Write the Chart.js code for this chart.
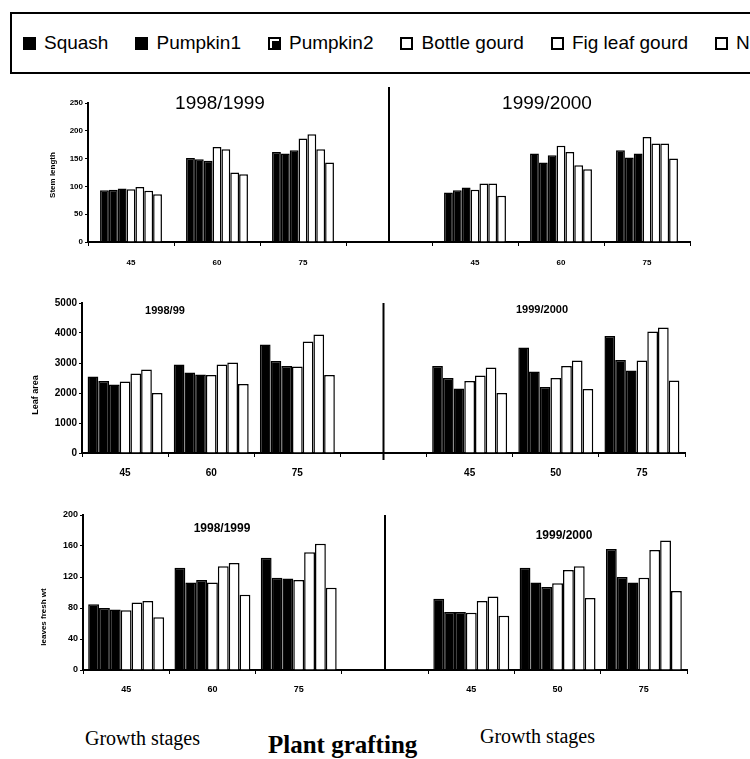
<!DOCTYPE html>
<html>
<head>
<meta charset="utf-8">
<script src="https://cdn.jsdelivr.net/npm/chart.js@4.4.0/dist/chart.umd.min.js"></script>
<style>
body { margin:0; width:750px; height:759px; overflow:hidden; background:#fff; position:relative; font-family: Arial, "Liberation Sans", sans-serif; color:#000; }
#legend { position:absolute; left:10px; top:12px; width:820px; height:62px; border:2px solid #000; display:flex; align-items:center; padding-left:11px; box-sizing:border-box; font-size:19px; white-space:nowrap; }
.item { display:flex; align-items:center; margin-right:27px; }
.box { width:13px; height:13px; box-sizing:border-box; border:2px solid #000; margin-right:8px; }
.panel { position:absolute; left:0; }
.ttl { position:absolute; transform:translate(-50%,-50%); white-space:nowrap; }
.ylab { position:absolute; transform:translate(-50%,-50%) rotate(-90deg); font-weight:bold; white-space:nowrap; }
.serif { position:absolute; font-family:"Liberation Serif","DejaVu Serif",serif; white-space:nowrap; }
</style>
</head>
<body>
<div id="legend"></div>

<canvas id="stem" class="panel" width="700" height="195" style="top:80px"></canvas>
<canvas id="leafArea" class="panel" width="695" height="196" style="top:290px"></canvas>
<canvas id="leaves" class="panel" width="697" height="201" style="top:502px"></canvas>

<div class="ttl" style="left:220px;top:103px;font-size:19px">1998/1999</div>
<div class="ttl" style="left:547px;top:103px;font-size:19px">1999/2000</div>
<div class="ttl" style="left:165px;top:310px;font-size:11px;font-weight:bold">1998/99</div>
<div class="ttl" style="left:542px;top:309px;font-size:11px;font-weight:bold">1999/2000</div>
<div class="ttl" style="left:222px;top:528px;font-size:12px;font-weight:bold">1998/1999</div>
<div class="ttl" style="left:564px;top:535px;font-size:12px;font-weight:bold">1999/2000</div>

<div class="ylab" style="left:52px;top:175px;font-size:8px">Stem length</div>
<div class="ylab" style="left:35px;top:395px;font-size:9px">Leaf area</div>
<div class="ylab" style="left:43px;top:617px;font-size:8px">leaves fresh wt</div>

<div class="serif" style="left:85px;top:727px;font-size:20px">Growth stages</div>
<div class="serif" style="left:268px;top:731px;font-size:25px;font-weight:bold">Plant grafting</div>
<div class="serif" style="left:480px;top:725px;font-size:20px">Growth stages</div>

<script>
// categories: growth stages (days) for 1998/99, a gap, then 1999/2000
const stemStages = ['45', '60', '75', '', '45', '60', '75'];
const otherStages = ['45', '60', '75', '', '45', '50', '75'];

const seriesNames = ['Squash', 'Pumpkin1', 'Pumpkin2', 'Bottle gourd', 'Fig leaf gourd', 'Non-grafted', 'Control'];
const seriesColors = ['#000', '#000', '#000', '#fff', '#fff', '#fff', '#fff'];

// stem length
const stemSquash   = [93, 151, 162, null, 89, 159, 165];
const stemPumpkin1 = [94, 149, 159, null, 93, 143, 152];
const stemPumpkin2 = [96, 146, 165, null, 98, 156, 159];
const stemBottle   = [95, 171, 186, null, 94, 173, 189];
const stemFig      = [99, 167, 194, null, 105, 162, 177];
const stemNon      = [92, 125, 167, null, 105, 138, 177];
const stemControl  = [86, 122, 143, null, 83, 131, 150];

// leaf area
const areaSquash   = [2550, 2950, 3620, null, 2900, 3520, 3900];
const areaPumpkin1 = [2400, 2680, 3070, null, 2500, 2720, 3100];
const areaPumpkin2 = [2280, 2620, 2900, null, 2150, 2200, 2750];
const areaBottle   = [2380, 2600, 2880, null, 2400, 2500, 3080];
const areaFig      = [2650, 2950, 3720, null, 2580, 2900, 4050];
const areaNon      = [2780, 3020, 3950, null, 2850, 3080, 4180];
const areaControl  = [2000, 2300, 2600, null, 2000, 2130, 2420];

// leaves fresh weight
const leafSquash   = [85, 132, 145, null, 92, 132, 156];
const leafPumpkin1 = [80, 113, 119, null, 75, 113, 120];
const leafPumpkin2 = [78, 116, 118, null, 75, 107, 113];
const leafBottle   = [77, 113, 116, null, 74, 112, 119];
const leafFig      = [87, 134, 152, null, 89, 129, 155];
const leafNon      = [89, 138, 163, null, 95, 134, 167];
const leafControl  = [68, 97, 106, null, 70, 93, 102];

// html legend (box runs past the right edge like the scan)
const legend = document.getElementById('legend');
seriesNames.forEach((name, i) => {
    const item = document.createElement('div');
    item.className = 'item';
    const box = document.createElement('span');
    box.className = 'box';
    box.style.background = seriesColors[i];
    if (i === 2) box.style.boxShadow = 'inset 3px 3px 0 -1px #fff';
    const label = document.createElement('span');
    label.textContent = name;
    item.appendChild(box);
    item.appendChild(label);
    legend.appendChild(item);
});

// vertical line between the two seasons
const dividerPlugin = {
    id: 'divider',
    afterDatasetsDraw(chart, args, opts) {
        const x = chart.scales.x.getPixelForValue(3);
        const ctx = chart.ctx;
        ctx.save();
        ctx.strokeStyle = '#000';
        ctx.lineWidth = 2;
        ctx.beginPath();
        ctx.moveTo(x, chart.chartArea.top - opts.above);
        ctx.lineTo(x, chart.chartArea.bottom + opts.below);
        ctx.stroke();
        ctx.restore();
    }
};

function makePanel(id, labels, series, cfg) {
    const datasets = series.map((values, i) => ({
        label: seriesNames[i],
        data: values,
        backgroundColor: seriesColors[i],
        borderColor: '#000',
        borderWidth: 1.5,
        barPercentage: 1,
        categoryPercentage: cfg.groupWidth
    }));
    return new Chart(document.getElementById(id), {
        type: 'bar',
        data: { labels: labels, datasets: datasets },
        options: {
            responsive: false,
            animation: false,
            layout: { padding: { top: cfg.padTop, right: 10, left: 0, bottom: 0 } },
            plugins: {
                legend: { display: false },
                tooltip: { enabled: false },
                divider: { above: cfg.above, below: cfg.below }
            },
            scales: {
                x: {
                    offset: true,
                    grid: { offset: true, drawOnChartArea: false, tickLength: 4, color: '#000' },
                    border: { color: '#000', width: 2 },
                    ticks: { color: '#000', font: { size: cfg.xFont, weight: 'bold' }, padding: cfg.xPad, maxRotation: 0, autoSkip: false },
                    afterFit: s => { s.height = cfg.xHeight; }
                },
                y: {
                    min: 0,
                    max: cfg.max,
                    grid: { drawOnChartArea: false, tickLength: 3, color: '#000' },
                    border: { color: '#000', width: 2 },
                    ticks: { stepSize: cfg.step, color: '#000', font: { size: cfg.yFont, weight: 'bold' }, padding: 2, callback: v => String(v) },
                    afterFit: s => { s.width = cfg.yWidth; }
                }
            }
        },
        plugins: [dividerPlugin]
    });
}

makePanel('stem', stemStages,
    [stemSquash, stemPumpkin1, stemPumpkin2, stemBottle, stemFig, stemNon, stemControl],
    { max: 250, step: 50, yWidth: 88, padTop: 23, xHeight: 33, groupWidth: 0.72, xFont: 8, yFont: 8, xPad: 12, above: 16, below: 0 });

makePanel('leafArea', otherStages,
    [areaSquash, areaPumpkin1, areaPumpkin2, areaBottle, areaFig, areaNon, areaControl],
    { max: 5000, step: 1000, yWidth: 82, padTop: 13, xHeight: 33, groupWidth: 0.87, xFont: 10, yFont: 10, xPad: 10, above: 0, below: 7 });

makePanel('leaves', otherStages,
    [leafSquash, leafPumpkin1, leafPumpkin2, leafBottle, leafFig, leafNon, leafControl],
    { max: 200, step: 40, yWidth: 83, padTop: 13, xHeight: 33, groupWidth: 0.88, xFont: 9, yFont: 9, xPad: 10, above: 0, below: 0 });
</script>
</body>
</html>
